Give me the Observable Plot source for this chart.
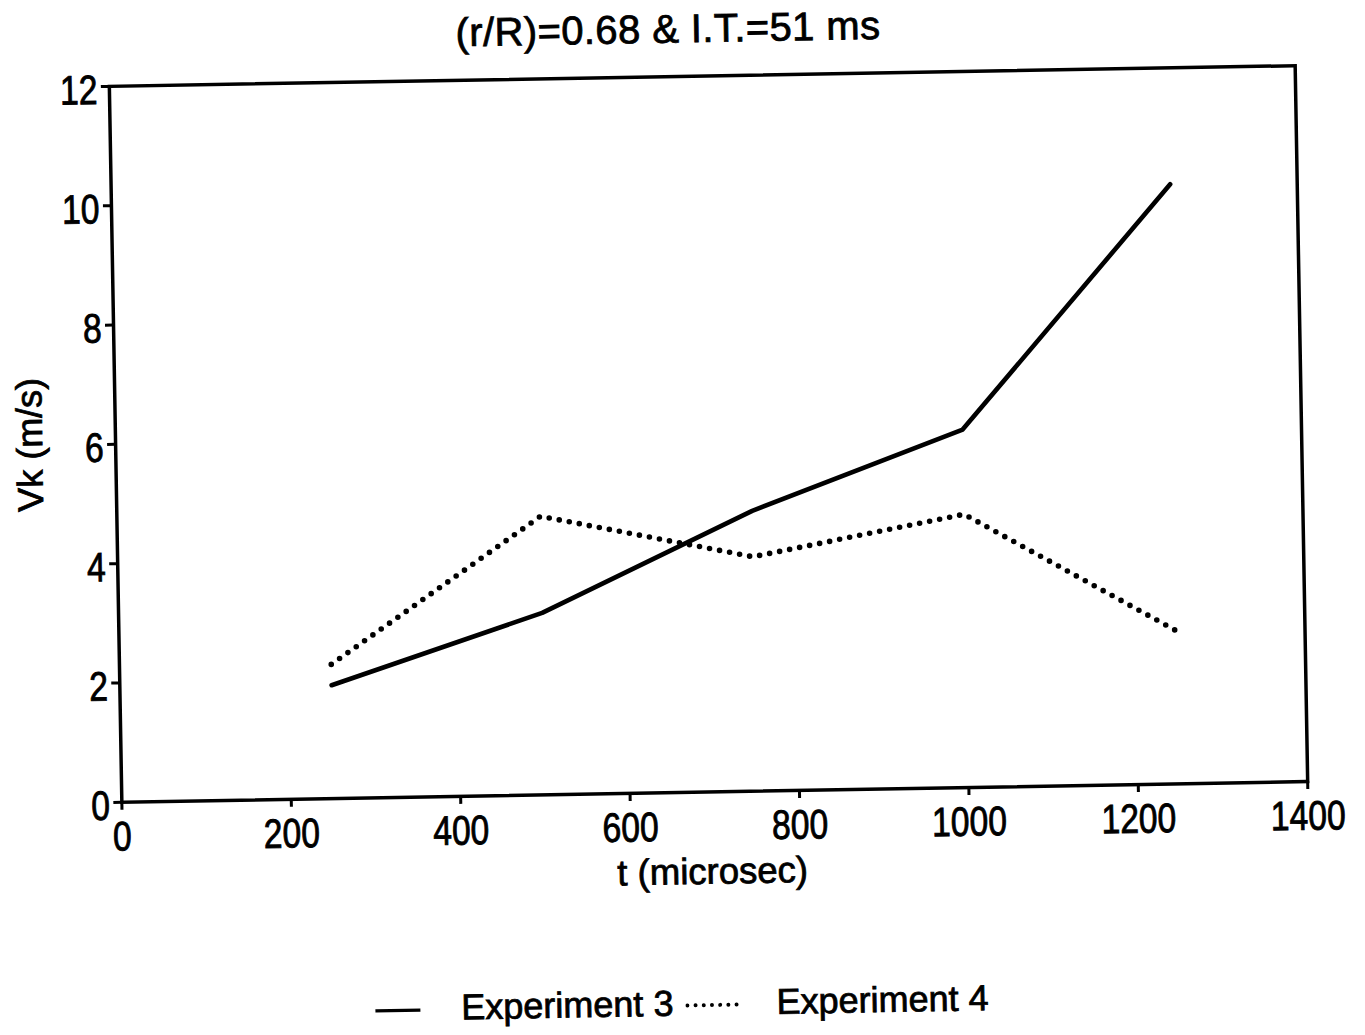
<!DOCTYPE html>
<html>
<head>
<meta charset="utf-8">
<script src="https://cdn.jsdelivr.net/npm/d3@7"></script>
<script src="https://cdn.jsdelivr.net/npm/@observablehq/plot@0.6"></script>
<style>
  html, body { margin: 0; padding: 0; background: #fff; overflow: hidden; }
  #fig {
    position: relative; width: 1365px; height: 1035px;
    font-family: "Liberation Sans", Arial, Helvetica, sans-serif; color: #000;
    transform: rotate(-1deg); transform-origin: 708px 433.5px;
  }
  #fig .txt { position: absolute; white-space: nowrap; line-height: 1; -webkit-text-stroke: 0.8px #000; }
  #title { left: 0; width: 1350px; top: 8px; text-align: center; font-size: 40px; letter-spacing: 0.4px; }
  #ylab { left: 30px; top: 433px; font-size: 36px; transform: translate(-50%, -50%) rotate(-90deg); }
  #xlab { left: 705px; top: 872px; font-size: 36.5px; transform: translate(-50%, -50%); }
  #legend { left: 671px; top: 1003px; font-size: 36px; transform: translate(-50%, -50%);
            display: flex; align-items: center; }
  #legend svg { display: block; }
  #chart { position: absolute; left: 0; top: 0; }
</style>
</head>
<body>
<div id="fig">
  <div id="chart"></div>
  <div id="title" class="txt">(r/R)=0.68 &amp; I.T.=51 ms</div>
  <div id="ylab" class="txt">Vk (m/s)</div>
  <div id="xlab" class="txt">t (microsec)</div>
  <div id="legend" class="txt"></div>
</div>
<script>
// Sampling times (microseconds) and measured Vk (m/s) for the two experiments
const times = [250, 500, 750, 1000, 1250];
const experiment3 = [1.9, 3.05, 4.7, 6.0, 10.05];
const experiment4 = [2.25, 4.67, 3.93, 4.58, 2.55];

// Axis ticks
const xTicks = [0, 200, 400, 600, 800, 1000, 1200, 1400];
const yTicks = [0, 2, 4, 6, 8, 10, 12];

const seriesNames = ["Experiment 3", "Experiment 4"];

const rows3 = times.map((t, i) => ({t, v: experiment3[i]}));
const rows4 = times.map((t, i) => ({t, v: experiment4[i]}));

const chart = Plot.plot({
  width: 1365,
  height: 880,
  marginLeft: 115,
  marginRight: 64,
  marginTop: 75.5,
  marginBottom: 88.5,
  style: {fontFamily: '"Liberation Sans", Arial, sans-serif', fontSize: "41px", background: "transparent", color: "#000"},
  x: {domain: [0, 1400]},
  y: {domain: [0, 12]},
  marks: [
    Plot.axisX({ticks: xTicks, tickFormat: d => `${d}`, tickSize: 8, tickPadding: 11, strokeWidth: 3, label: null}),
    Plot.axisY({ticks: yTicks, tickFormat: d => `${d}`, tickSize: 8, tickPadding: 4, strokeWidth: 3, label: null}),
    Plot.frame({stroke: "#000", strokeWidth: 3.5}),
    Plot.line(rows3, {x: "t", y: "v", stroke: "#000", strokeWidth: 4.6}),
    Plot.line(rows4, {x: "t", y: "v", stroke: "#000", strokeWidth: 5.6,
                      strokeDasharray: "0 10.2", strokeLinecap: "round"})
  ]
});

// Narrow, heavy numerals on the tick labels
chart.querySelectorAll('g[aria-label$="tick label"] text').forEach(el => {
  el.setAttribute("textLength", el.textContent.length * 18.7);
  el.setAttribute("lengthAdjust", "spacingAndGlyphs");
  el.setAttribute("stroke", "#000");
  el.setAttribute("stroke-width", "0.9");
});
chart.querySelectorAll('g[aria-label="y-axis tick label"] text').forEach(el => {
  el.setAttribute("dy", "0.1em");
});

document.getElementById("chart").appendChild(chart);

// Legend: solid and dotted swatches with series names
const legend = document.getElementById("legend");
function swatch(w, dash, sw) {
  const ns = "http://www.w3.org/2000/svg";
  const s = document.createElementNS(ns, "svg");
  s.setAttribute("width", w); s.setAttribute("height", 14);
  const l = document.createElementNS(ns, "line");
  l.setAttribute("x1", 2); l.setAttribute("x2", w - 2);
  l.setAttribute("y1", 9); l.setAttribute("y2", 9);
  l.setAttribute("stroke", "#000"); l.setAttribute("stroke-width", sw);
  if (dash) { l.setAttribute("stroke-dasharray", dash); l.setAttribute("stroke-linecap", "round"); }
  s.appendChild(l);
  return s;
}
function label(text, ml, mr) {
  const sp = document.createElement("span");
  sp.textContent = text;
  sp.style.margin = `0 ${mr}px 0 ${ml}px`;
  return sp;
}
legend.appendChild(swatch(49, null, 3.4));
legend.appendChild(label(seriesNames[0], 39, 12));
legend.appendChild(swatch(60, "0 8.2", 4));
legend.appendChild(label(seriesNames[1], 31, 0));
</script>
</body>
</html>
